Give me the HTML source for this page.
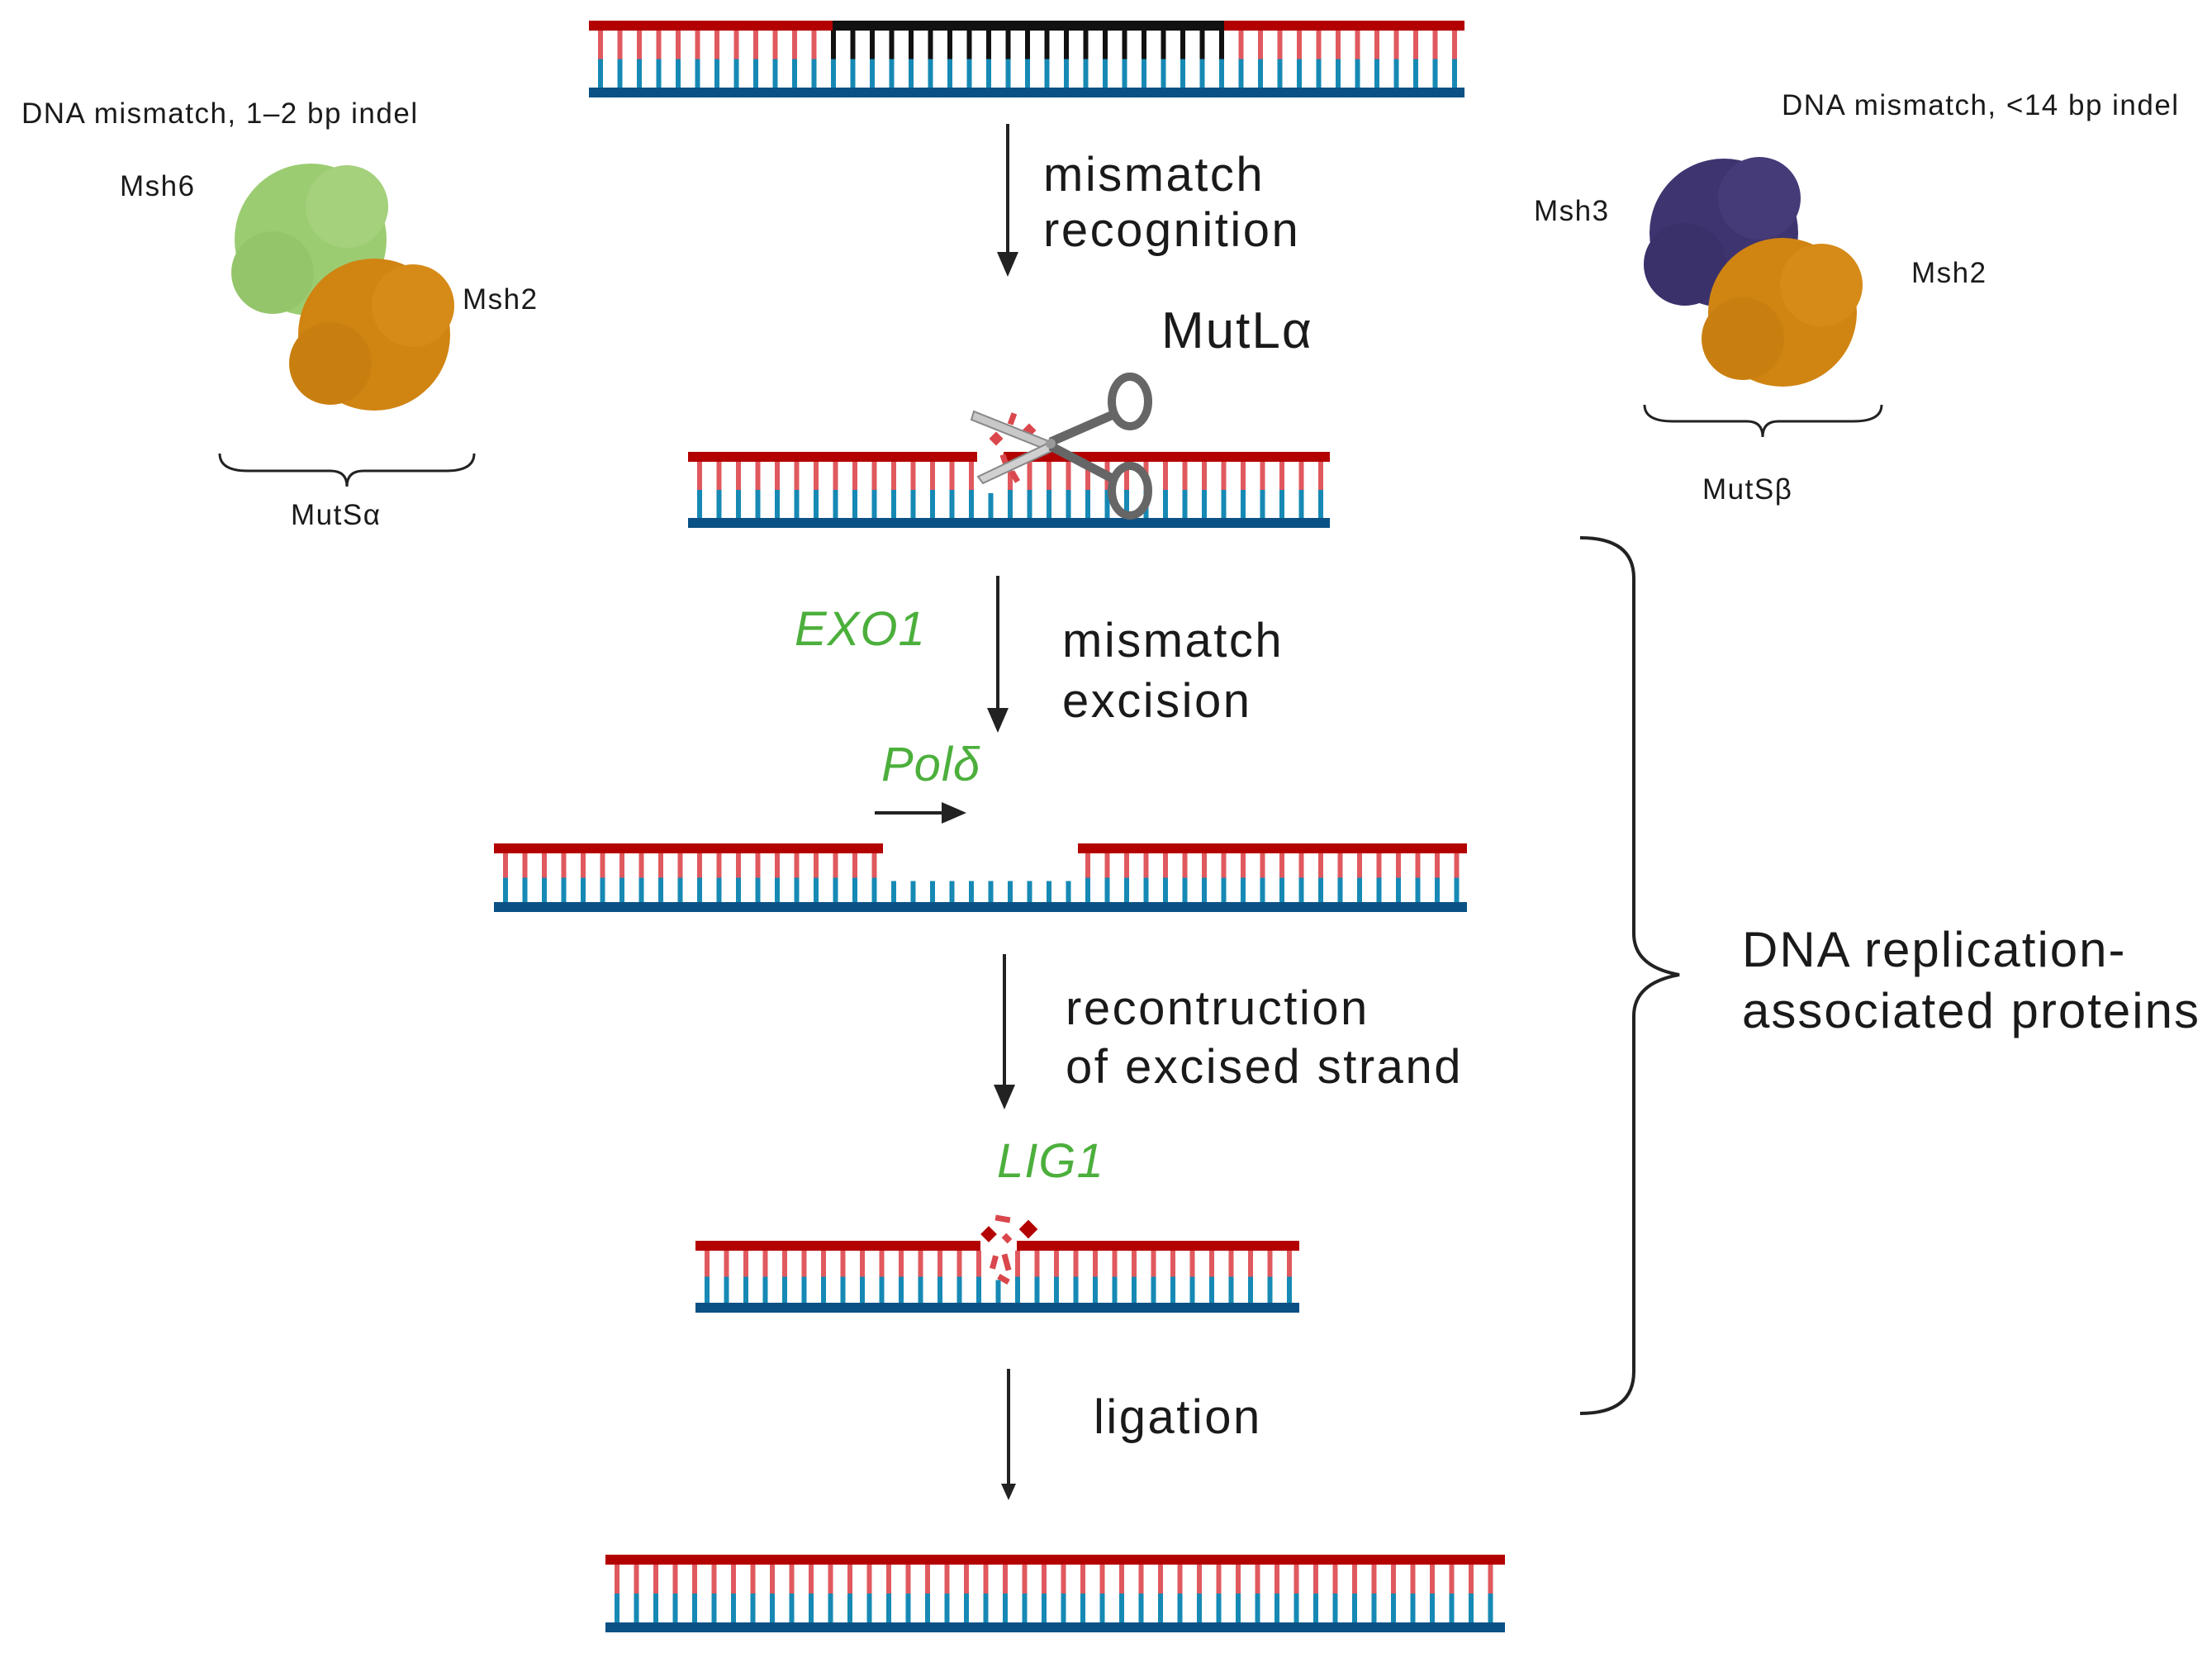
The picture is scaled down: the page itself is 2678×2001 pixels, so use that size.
<!DOCTYPE html>
<html><head><meta charset="utf-8"><style>
html,body{margin:0;padding:0;background:#fff}
#c{position:relative;width:2678px;height:2001px;overflow:hidden;font-family:"Liberation Sans","DejaVu Sans",sans-serif;color:#1a1a1a}
.t{position:absolute;white-space:nowrap;line-height:1}
.big{font-size:58px;letter-spacing:2.5px}
.sm{font-size:35px;letter-spacing:1.5px}
.g{color:#4caf3c;font-style:italic;font-size:58px;letter-spacing:1px}
svg{position:absolute;left:0;top:0}
</style></head><body><div id="c">
<svg id="s" width="2678" height="2001" viewBox="0 0 2678 2001">
<g id="dna"></g>
<g stroke="#222" stroke-width="4" fill="#222">
<line x1="1220" y1="150" x2="1220" y2="310"/><path d="M1207,305 L1233,305 L1220,335z" stroke="none"/>
<line x1="1208" y1="697" x2="1208" y2="862"/><path d="M1195,857 L1221,857 L1208,887z" stroke="none"/>
<line x1="1216" y1="1155" x2="1216" y2="1318"/><path d="M1203,1313 L1229,1313 L1216,1343z" stroke="none"/>
<line x1="1221" y1="1657" x2="1221" y2="1800"/><path d="M1212,1796 L1230,1796 L1221,1816z" stroke="none"/>
<line x1="1059" y1="984" x2="1145" y2="984"/><path d="M1140,971 L1140,997 L1170,984z" stroke="none"/>
</g>
<g fill="none" stroke="#222" stroke-width="4">
<path d="M1913,651 Q1978,651 1978,700 L1978,1130 Q1978,1170 2033,1180 Q1978,1190 1978,1230 L1978,1660 Q1978,1711 1913,1711"/>
<path d="M266,549 Q266,570 300,570 L400,570 Q420,570 420,589 Q420,570 440,570 L540,570 Q574,570 574,549" stroke-width="3"/>
<path d="M1991,490 Q1991,510 2025,510 L2115,510 Q2134,510 2134,529 Q2134,510 2153,510 L2244,510 Q2278,510 2278,490" stroke-width="3"/>
</g>
<g>
<circle cx="376" cy="290" r="92" fill="#9ccc72"/><circle cx="330" cy="330" r="50" fill="#95c56b"/><circle cx="420" cy="250" r="50" fill="#a5d07c"/>
<circle cx="453" cy="405" r="92" fill="#d08412"/><circle cx="400" cy="440" r="50" fill="#c97f10"/><circle cx="500" cy="370" r="50" fill="#d68a18"/>
<circle cx="2087" cy="282" r="90" fill="#3e3570"/><circle cx="2040" cy="320" r="50" fill="#3a316a"/><circle cx="2130" cy="240" r="50" fill="#453b78"/>
<circle cx="2158" cy="378" r="90" fill="#d08412"/><circle cx="2110" cy="410" r="50" fill="#c97f10"/><circle cx="2205" cy="345" r="50" fill="#d68a18"/>
</g>
<g>
<path d="M1272,535 L1179,498 L1176,508 L1266,544z" fill="#c8c8c8" stroke="#888" stroke-width="2"/>
<path d="M1272,535 L1184,577 L1190,585 L1278,544z" fill="#d0d0d0" stroke="#888" stroke-width="2"/>
<path d="M1272,535 L1352,500" stroke="#666" stroke-width="11"/>
<path d="M1272,540 L1352,582" stroke="#666" stroke-width="11"/>
<ellipse cx="1368" cy="486" rx="22" ry="30" fill="none" stroke="#666" stroke-width="10"/>
<ellipse cx="1368" cy="594" rx="22" ry="30" fill="none" stroke="#666" stroke-width="10"/>
<circle cx="1272" cy="537" r="6" fill="#999"/>
</g>
</svg>
<div class="t big" style="left:1263px;top:183px">mismatch</div>
<div class="t big" style="left:1263px;top:250px">recognition</div>
<div class="t" style="left:1406px;top:370px;font-size:62px;letter-spacing:2px">MutLα</div>
<div class="t g" style="left:962px;top:733px">EXO1</div>
<div class="t big" style="left:1286px;top:747px">mismatch</div>
<div class="t big" style="left:1286px;top:820px">excision</div>
<div class="t g" style="left:1067px;top:897px">Polδ</div>
<div class="t big" style="left:1290px;top:1192px">recontruction</div>
<div class="t big" style="left:1290px;top:1263px">of excised strand</div>
<div class="t g" style="left:1207px;top:1377px">LIG1</div>
<div class="t big" style="left:1324px;top:1687px">ligation</div>
<div class="t" style="left:2109px;top:1120px;font-size:60px;letter-spacing:2px">DNA replication-</div>
<div class="t" style="left:2109px;top:1194px;font-size:60px;letter-spacing:2px">associated proteins</div>
<div class="t sm" style="left:26px;top:120px">DNA mismatch, 1–2 bp indel</div>
<div class="t sm" style="left:145px;top:208px">Msh6</div>
<div class="t sm" style="left:560px;top:345px">Msh2</div>
<div class="t sm" style="left:352px;top:606px">MutSα</div>
<div class="t sm" style="left:2157px;top:110px">DNA mismatch, &lt;14 bp indel</div>
<div class="t sm" style="left:1857px;top:238px">Msh3</div>
<div class="t sm" style="left:2314px;top:313px">Msh2</div>
<div class="t sm" style="left:2061px;top:575px">MutSβ</div>
</div>
<script>
var g=document.getElementById('dna'),ns='http://www.w3.org/2000/svg';
function r(x,y,w,h,f){var e=document.createElementNS(ns,'rect');e.setAttribute('x',x);e.setAttribute('y',y);e.setAttribute('width',w);e.setAttribute('height',h);e.setAttribute('fill',f);g.appendChild(e);}
function dna(x1,x2,y,h,o){o=o||{};var sh=12,bt=y+h-12,mid=y+sh+(bt-y-sh)/2,sp=23.5;
 var gaps=o.gaps||[];function inGap(x){for(var i=0;i<gaps.length;i++)if(x>=gaps[i][0]&&x<=gaps[i][1])return true;return false;}
 for(var x=x1+14;x<x2-8;x+=sp){var blk=o.black&&x>=o.black[0]&&x<=o.black[1];
  if(!inGap(x))r(x-3,y+sh,6,mid-y-sh,blk?'#111':'#e0595e');
  r(x-3,inGap(x)?mid+4:mid,6,bt-mid,'#1689b4');}
 var segs=[[x1,x2]];gaps.forEach(function(gp){var n=[];segs.forEach(function(s){if(gp[1]<s[0]||gp[0]>s[1])n.push(s);else{if(gp[0]>s[0])n.push([s[0],gp[0]]);if(gp[1]<s[1])n.push([gp[1],s[1]]);}});segs=n;});
 segs.forEach(function(s){r(s[0],y,s[1]-s[0],sh,'#b30000');});
 if(o.black)r(o.black[0],y,o.black[1]-o.black[0],sh,'#111');
 r(x1,bt,x2-x1,12,'#0a5185');}
dna(713,1773,25,93,{black:[1008,1482]});
dna(833,1610,547,92,{gaps:[[1183,1215]]});
dna(598,1776,1021,83,{gaps:[[1069,1305]]});
dna(842,1573,1502,87,{gaps:[[1187,1231]]});
dna(733,1822,1882,94);
[[1190,1487,14,14,45],[1237,1480,16,16,45],[1205,1472,18,7,10],[1214,1495,10,8,45],[1200,1520,7,16,15],[1215,1518,7,20,-15],[1208,1545,14,7,30],
 [1200,525,12,12,45],[1240,515,12,12,45],[1222,500,7,14,20],[1213,550,7,16,-20],[1225,570,7,14,-30]].forEach(function(a){
 var e=document.createElementNS(ns,'rect');e.setAttribute('x',a[0]);e.setAttribute('y',a[1]);e.setAttribute('width',a[2]);e.setAttribute('height',a[3]);e.setAttribute('fill',a[2]>12&&a[3]>12?'#b30000':'#d9474c');e.setAttribute('transform','rotate('+a[4]+' '+(a[0]+a[2]/2)+' '+(a[1]+a[3]/2)+')');g.appendChild(e);});
</script>
</body></html>
